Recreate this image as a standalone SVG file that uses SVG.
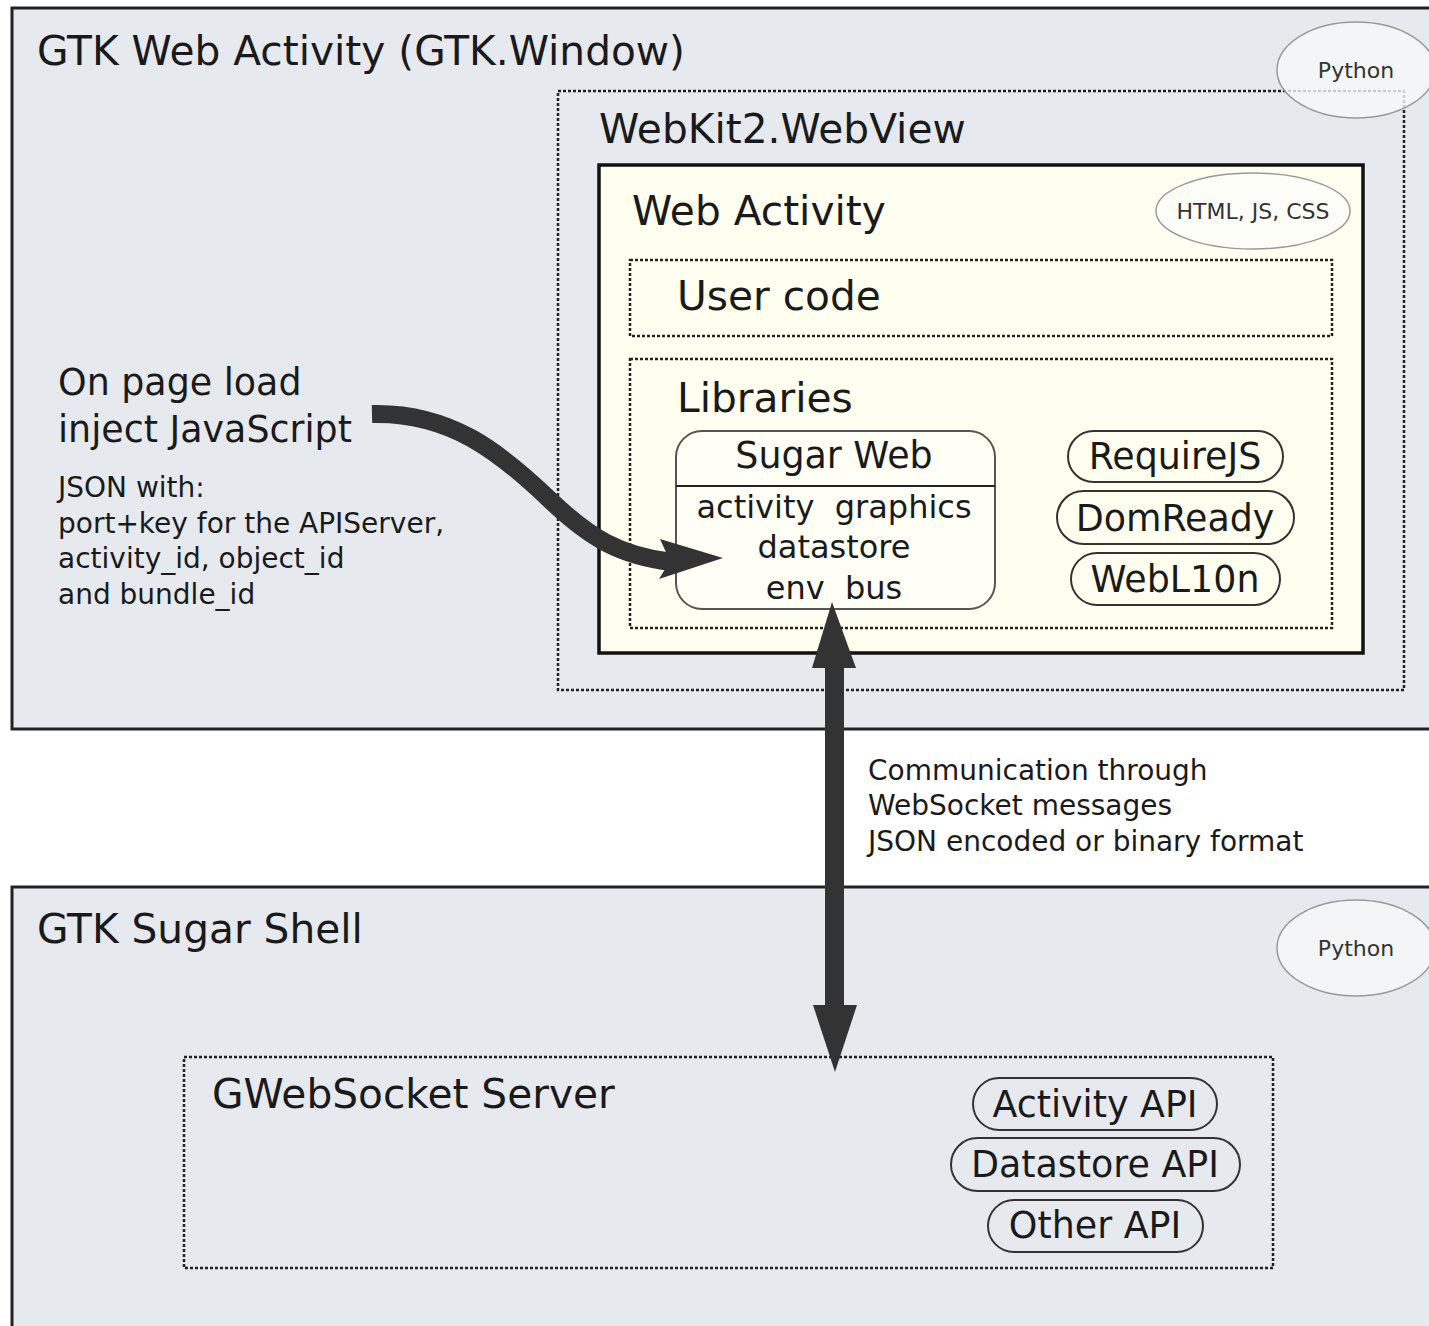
<svg xmlns="http://www.w3.org/2000/svg" width="1429" height="1326" viewBox="0 0 1429 1326">
<style>
text{font-family:"DejaVu Sans","Liberation Sans",sans-serif;fill:#1a1a1a;white-space:pre}
.t40{font-size:40.7px}
.t36{font-size:36.4px}
.t32{font-size:32px}
.t28{font-size:28px}
.t22{font-size:22px;fill:#333}
.mid{text-anchor:middle}
.outer{fill:#e6eaee;stroke:#222;stroke-width:3}
.dots{fill:none;stroke:#222;stroke-width:2.5;stroke-dasharray:3 2}
.pill{fill:none;stroke:#333;stroke-width:2}
.ell{fill:#f6f7f9;fill-opacity:0.8;stroke:#999;stroke-width:1.5}
</style>
<rect width="1429" height="1326" fill="#ffffff"/>

<g id="gtk-web-activity">
<rect class="outer" x="12" y="8" width="1440" height="721"/>
<text class="t40" x="37" y="65">GTK Web Activity (GTK.Window)</text>
</g>

<g id="webview">
<rect class="dots" x="558" y="91" width="846" height="599"/>
<text class="t40" x="599" y="143">WebKit2.WebView</text>
</g>

<g id="python-top">
<ellipse class="ell" cx="1356" cy="70" rx="79" ry="48"/>
<text class="t22 mid" x="1356" y="78">Python</text>
</g>

<g id="web-activity">
<rect x="599" y="165" width="764" height="488" fill="#fffff0" stroke="#111" stroke-width="3.5"/>
<text class="t40" x="632" y="225">Web Activity</text>
</g>

<g id="html-js-css">
<ellipse cx="1253" cy="211" rx="97" ry="38" fill="#fdfdf7" stroke="#999" stroke-width="1.5"/>
<text class="t22 mid" x="1253" y="219">HTML, JS, CSS</text>
</g>

<g id="user-code">
<rect class="dots" x="630" y="260" width="702" height="76" fill="#fffff6"/>
<text class="t40" x="677" y="310">User code</text>
</g>

<g id="libraries">
<rect class="dots" x="630" y="359" width="702" height="269" fill="#fffff6"/>
<text class="t40" x="677" y="412">Libraries</text>
</g>

<g id="sugar-web">
<rect x="676" y="431" width="319" height="178" rx="26" fill="#fffff6" stroke="#555" stroke-width="2"/>
<line x1="676" y1="486" x2="995" y2="486" stroke="#222" stroke-width="2"/>
<text class="t36 mid" x="834" y="468">Sugar Web</text>
<text class="t32 mid" x="834" y="518">activity  graphics</text>
<text class="t32 mid" x="834" y="558">datastore</text>
<text class="t32 mid" x="834" y="599">env  bus</text>
</g>

<g id="requirejs">
<rect class="pill" x="1068" y="431" width="215" height="51" rx="25.5"/>
<text class="t36 mid" x="1175" y="469">RequireJS</text>
</g>
<g id="domready">
<rect class="pill" x="1057" y="491" width="237" height="53" rx="26.5"/>
<text class="t36 mid" x="1175" y="531">DomReady</text>
</g>
<g id="webl10n">
<rect class="pill" x="1071" y="553" width="209" height="52" rx="26"/>
<text class="t36 mid" x="1175" y="592">WebL10n</text>
</g>

<g id="inject-note">
<text class="t36" x="58" y="395">On page load</text>
<text class="t36" x="58" y="442">inject JavaScript</text>
<text class="t28" x="58" y="497">JSON with:</text>
<text class="t28" x="58" y="533">port+key for the APIServer,</text>
<text class="t28" x="58" y="568">activity_id, object_id</text>
<text class="t28" x="58" y="604">and bundle_id</text>
</g>

<g id="gtk-sugar-shell">
<rect class="outer" x="12" y="887" width="1440" height="460"/>
<text class="t40" x="37" y="943">GTK Sugar Shell</text>
</g>

<g id="python-bottom">
<ellipse class="ell" cx="1356" cy="948" rx="79" ry="48"/>
<text class="t22 mid" x="1356" y="956">Python</text>
</g>

<g id="gwebsocket-server">
<rect class="dots" x="184" y="1057" width="1089" height="211"/>
<text class="t40" x="212" y="1108">GWebSocket Server</text>
</g>

<g id="activity-api">
<rect class="pill" x="973" y="1078" width="244" height="52" rx="26"/>
<text class="t36 mid" x="1095" y="1117">Activity API</text>
</g>
<g id="datastore-api">
<rect class="pill" x="951" y="1138" width="289" height="53" rx="26.5"/>
<text class="t36 mid" x="1095" y="1177">Datastore API</text>
</g>
<g id="other-api">
<rect class="pill" x="988" y="1200" width="215" height="52" rx="26"/>
<text class="t36 mid" x="1095" y="1238">Other API</text>
</g>

<g id="comm-label">
<text class="t28" x="868" y="780">Communication through</text>
<text class="t28" x="868" y="815">WebSocket messages</text>
<text class="t28" x="868" y="851">JSON encoded or binary format</text>
</g>

<g id="connectors">
<path d="M372,414 C450,412 500,452 550,500 C590,538 620,556 672,562" fill="none" stroke="#333" stroke-width="18"/>
<polygon points="723,558 660,539 670,561 659,579" fill="#333"/>
<rect x="825" y="665" width="19" height="343" fill="#333"/>
<polygon points="832,602 812,668 856,668" fill="#333"/>
<polygon points="835,1072 813,1005 857,1005" fill="#333"/>
</g>
</svg>
